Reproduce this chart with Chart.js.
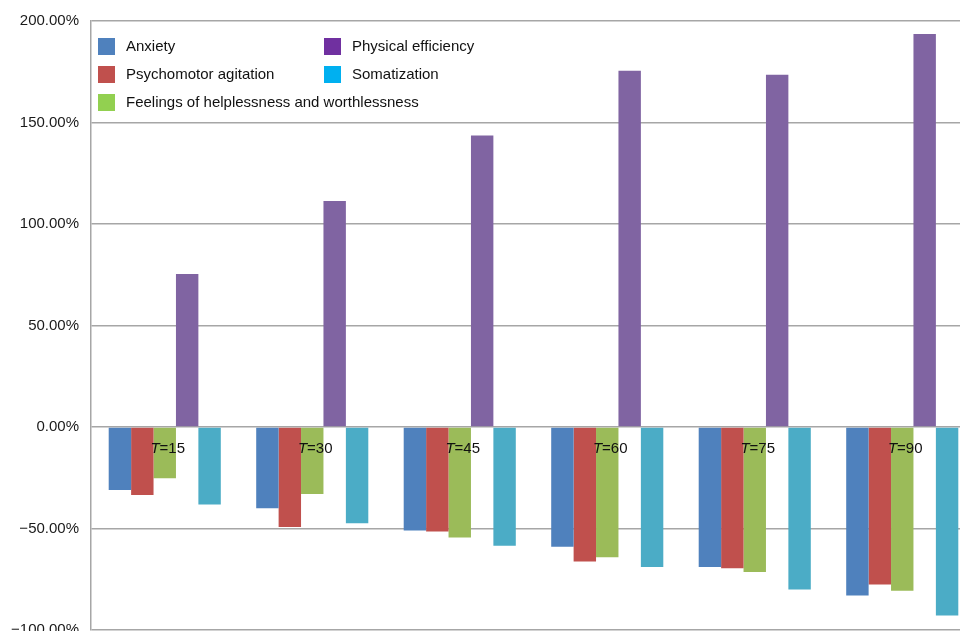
<!DOCTYPE html>
<html>
<head>
<meta charset="utf-8">
<script src="https://cdn.jsdelivr.net/npm/chart.js@4"></script>
<style>
  html, body { margin: 0; padding: 0; background: #fff; overflow: hidden; }
  #wrap { width: 976px; height: 651px; }
</style>
</head>
<body>
<div id="wrap"><canvas id="grafico"></canvas></div>
<script>
const CATEGORIAS = ['15', '30', '45', '60', '75', '90'];
const ANXIETY = [-31, -40, -51, -59, -69, -83];
const PSYCHOMOTOR = [-33.5, -49.3, -51.5, -66.2, -69.6, -77.6];
const HELPLESSNESS = [-25.3, -33, -54.4, -64.2, -71.4, -80.7];
const PHYSICAL = [75.4, 111.3, 143.6, 175.5, 173.5, 193.6];
const SOMATIZATION = [-38.2, -47.4, -58.5, -69, -80, -92.8];
const Y_TICKS = [-100, -50, 0, 50, 100, 150, 200];

const FONTE = '"Liberation Sans", Arial, sans-serif';

// legenda em duas colunas, como no original
const legenda_itens = [
  { nome: 'Anxiety', cor: '#4F81BD', col: 0, lin: 0 },
  { nome: 'Psychomotor agitation', cor: '#C0504D', col: 0, lin: 1 },
  { nome: 'Feelings of helplessness and worthlessness', cor: '#92D050', col: 0, lin: 2 },
  { nome: 'Physical efficiency', cor: '#7030A0', col: 1, lin: 0 },
  { nome: 'Somatization', cor: '#00B0F0', col: 1, lin: 1 }
];

const pluginLegenda = {
  id: 'legendaCaixa',
  afterDraw(chart) {
    const ctx = chart.ctx;
    const area = chart.chartArea;
    ctx.save();
    ctx.fillStyle = '#fff';
    ctx.fillRect(area.left + 1, area.top + 1, 460, 97);
    ctx.font = '15px ' + FONTE;
    ctx.textBaseline = 'middle';
    legenda_itens.forEach(item => {
      const x = area.left + 7 + item.col * 226;
      const y = area.top + 26 + item.lin * 28;
      ctx.fillStyle = item.cor;
      ctx.fillRect(x, y - 9, 17, 17);
      ctx.fillStyle = '#111';
      ctx.fillText(item.nome, x + 28, y);
    });
    ctx.restore();
  }
};

const pluginRotulos = {
  id: 'rotulosT',
  afterDatasetsDraw(chart) {
    const ctx = chart.ctx;
    const xs = chart.scales.x;
    const ys = chart.scales.y;
    const y0 = ys.getPixelForValue(0) + 22;
    ctx.save();
    ctx.textBaseline = 'middle';
    ctx.fillStyle = '#111';
    CATEGORIAS.forEach((c, i) => {
      ctx.font = 'italic 15px ' + FONTE;
      const wT = ctx.measureText('T').width;
      ctx.font = '15px ' + FONTE;
      const wR = ctx.measureText('=' + c).width;
      const cx = xs.getPixelForValue(i) + 3;
      const x = cx - (wT + wR) / 2;
      ctx.font = 'italic 15px ' + FONTE;
      ctx.fillText('T', x, y0);
      ctx.font = '15px ' + FONTE;
      ctx.fillText('=' + c, x + wT, y0);
    });
    ctx.restore();
  }
};

new Chart(document.getElementById('grafico'), {
  type: 'bar',
  data: {
    labels: CATEGORIAS,
    datasets: [
      { label: 'Anxiety', data: ANXIETY, backgroundColor: '#4F81BD' },
      { label: 'Psychomotor agitation', data: PSYCHOMOTOR, backgroundColor: '#C0504D' },
      { label: 'Feelings of helplessness and worthlessness', data: HELPLESSNESS, backgroundColor: '#9BBB59' },
      { label: 'Physical efficiency', data: PHYSICAL, backgroundColor: '#8064A2' },
      { label: 'Somatization', data: SOMATIZATION, backgroundColor: '#4BACC6' }
    ]
  },
  options: {
    responsive: true,
    maintainAspectRatio: false,
    animation: false,
    datasets: { bar: { categoryPercentage: 0.76, barPercentage: 1 } },
    layout: { padding: { top: 14, bottom: 1, right: 0, left: 0 } },
    plugins: { legend: { display: false }, tooltip: { enabled: false } },
    scales: {
      x: { display: false },
      y: {
        min: -100,
        max: 200,
        afterBuildTicks(axis) { axis.ticks = Y_TICKS.map(v => ({ value: v })); },
        afterFit(axis) { axis.width = 91; },
        ticks: {
          color: '#1a1a1a',
          font: { family: FONTE, size: 15 },
          padding: 12,
          callback: v => (v < 0 ? '\u2212' : '') + Math.abs(v).toFixed(2) + '%'
        },
        grid: { color: '#A6A6A6', lineWidth: 1.5, drawTicks: false },
        border: { display: true, color: '#A6A6A6', width: 1.5 }
      }
    }
  },
  plugins: [pluginRotulos, pluginLegenda]
});
</script>
</body>
</html>
